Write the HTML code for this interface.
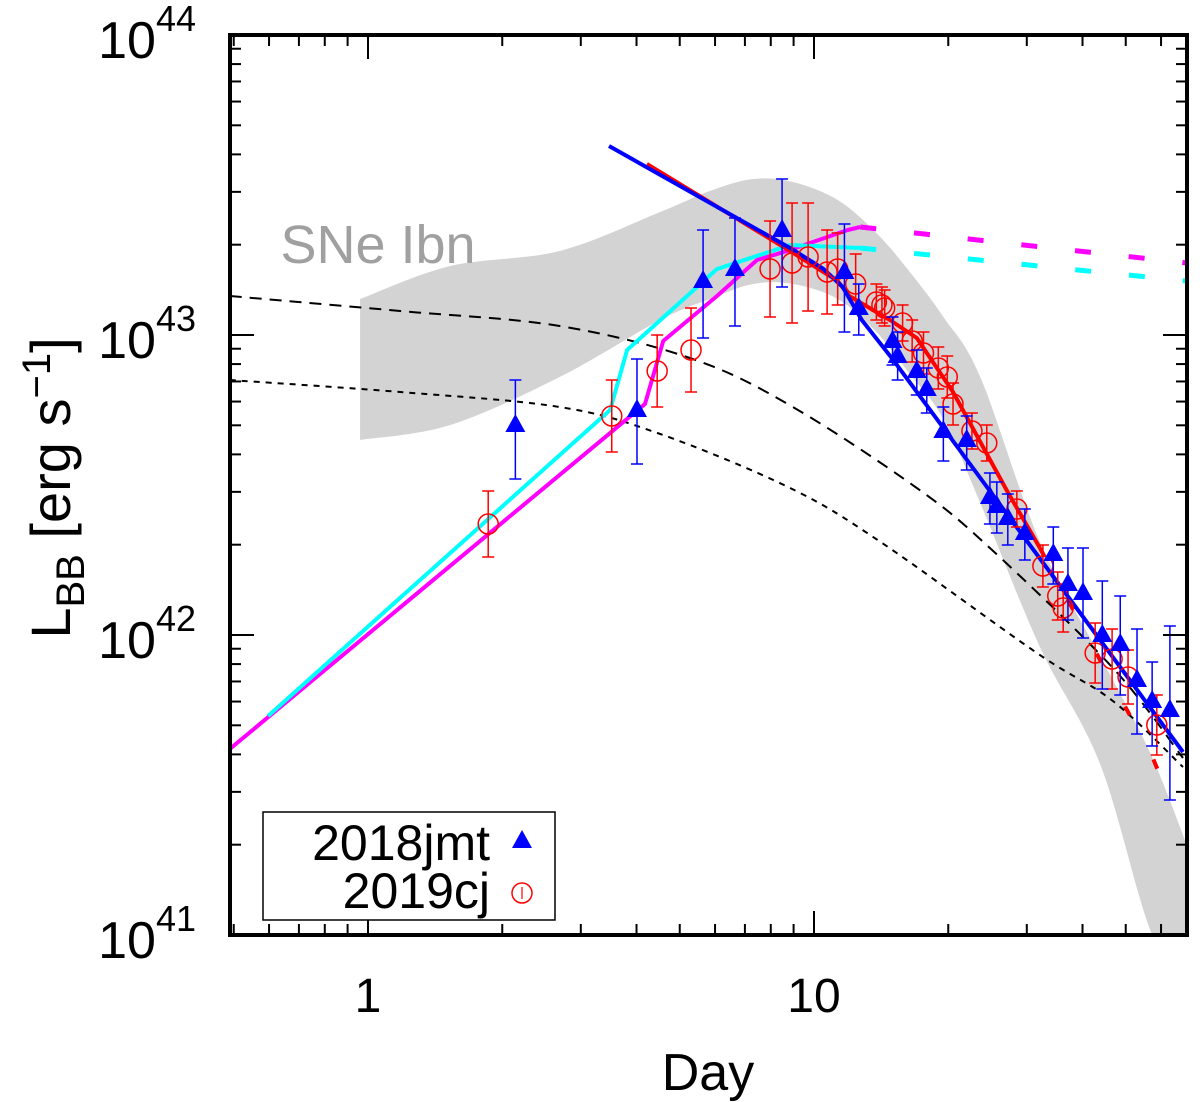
<!DOCTYPE html>
<html><head><meta charset="utf-8"><style>
html,body{margin:0;padding:0;background:#fff;}
svg{display:block;font-family:"Liberation Sans",sans-serif;}
</style></head><body>
<svg id="chart" width="1200" height="1102" viewBox="0 0 1200 1102" xmlns="http://www.w3.org/2000/svg">
<g id="band"></g>
<g id="models"></g>
<g id="pts"></g>
<g id="axes"></g>
<text x="378" y="263" font-size="54" fill="#a0a0a0" text-anchor="middle">SNe Ibn</text>
<text x="708" y="1090" font-size="52" text-anchor="middle">Day</text>
<text transform="translate(70,488) rotate(-90)" font-size="56" text-anchor="middle">L<tspan font-size="40" dy="14">BB</tspan><tspan dy="-14"> [erg s</tspan><tspan font-size="40" dy="-20">−1</tspan><tspan dy="20">]</tspan></text>
<g>
<rect x="263" y="812" width="292" height="108" fill="#fff" stroke="#000" stroke-width="1.5"/>
<text x="490" y="860" font-size="50" text-anchor="end">2018jmt</text>
<polygon points="522,830 532,848 512,848" fill="#0000ff"/>
<text x="490" y="908" font-size="50" text-anchor="end">2019cj</text>
<circle cx="522" cy="893" r="10" fill="none" stroke="#ff0000" stroke-width="1.5"/>
<line x1="522" y1="887" x2="522" y2="899" stroke="#ff0000" stroke-width="1.2"/>
</g>
</svg>
<script>
// --- data (day, log10 L) ---
const jmtDay=[2.14,4.01,5.64,6.65,8.48,11.7,12.6,15.0,15.4,17.0,17.9,19.5,22.0,24.8,25.7,27.2,29.7,34.4,37.1,40.1,44.3,48.6,53.0,57.3,62.8];
const jmtLogL=[42.70,42.75,43.18,43.22,43.35,43.21,43.09,42.98,42.93,42.88,42.82,42.68,42.65,42.46,42.43,42.39,42.34,42.27,42.17,42.14,42.00,41.97,41.85,41.78,41.75];
const jmtErrUp=[0.15,0.17,0.17,0.17,0.17,0.16,0.08,0.08,0.08,0.07,0.07,0.08,0.08,0.08,0.08,0.08,0.08,0.09,0.12,0.15,0.18,0.16,0.17,0.13,0.28];
const jmtErrDn=[0.18,0.18,0.19,0.19,0.19,0.2,0.09,0.08,0.08,0.08,0.08,0.1,0.1,0.09,0.09,0.09,0.09,0.1,0.12,0.15,0.18,0.17,0.18,0.15,0.3];
const cjDay=[1.86,3.52,4.45,5.30,7.97,8.93,9.70,10.7,11.3,12.4,13.8,14.2,14.4,15.8,16.6,17.6,19.0,19.9,20.5,22.6,24.4,28.5,32.6,35.2,36.2,42.7,46.6,50.6,58.7];
const cjLogL=[42.37,42.73,42.88,42.95,43.22,43.24,43.26,43.21,43.22,43.17,43.11,43.10,43.09,43.04,42.98,42.94,42.89,42.86,42.77,42.68,42.64,42.42,42.23,42.13,42.09,41.94,41.92,41.86,41.70];
const cjErr=[0.11,0.12,0.12,0.14,0.16,0.2,0.18,0.14,0.12,0.1,0.06,0.06,0.06,0.06,0.07,0.07,0.07,0.07,0.07,0.06,0.06,0.06,0.07,0.08,0.08,0.1,0.1,0.09,0.1];
const blueDay=[3.47,8.84,10.5,11.6,12.8,15.0,24.8,67.2];
const blueLogL=[43.63,43.29,43.22,43.16,43.05,42.92,42.48,41.61];
const redDay=[4.22,8.84,11.3,12.0,14.8,17.0,20.5,27.1,32.1];
const redLogL=[43.57,43.28,43.18,43.13,43.05,42.99,42.81,42.48,42.29];
const redDashDay=[32.1,57.5,63.8];
const redDashLogL=[42.29,41.59,41.43];
const magDay=[0.49,4.18,4.59,6.06,7.45,8.70,11.9,12.7];
const magLogL=[41.62,42.77,42.98,43.13,43.25,43.28,43.35,43.36];
const magDashDay=[12.7,68.6];
const magDashLogL=[43.36,43.24];
const cyanDay=[0.597,3.49,3.81,6.06,8.84,12.7];
const cyanLogL=[41.73,42.75,42.95,43.22,43.30,43.29];
const cyanDashDay=[12.7,68.6];
const cyanDashLogL=[43.29,43.18];
const dashDay=[0.49,1.18,2.69,5.35,8.97,17.0,24.8,46.8,67.2];
const dashLogL=[43.13,43.08,43.03,42.92,42.76,42.49,42.29,41.89,41.59];
const dotDay=[0.49,1.18,2.69,4.52,8.84,14.1,31.6,46.8,67.2];
const dotLogL=[42.85,42.81,42.76,42.67,42.49,42.31,41.94,41.78,41.56];
const bandDay=[0.96,1.53,2.69,4.52,5.84,7.30,8.97,11.3,13.8,16.4,19.5,23.6,32.1,43.8,56.6,68.6];
const bandUpper=[43.12,43.23,43.28,43.41,43.48,43.52,43.51,43.45,43.34,43.21,43.06,42.86,42.31,41.93,41.61,41.30];
const bandLower=[42.65,42.70,42.86,43.05,43.12,43.17,43.17,43.12,43.01,42.87,42.72,42.44,41.96,41.57,41.02,40.8];
const xTicks=["1","10"];
const yTicks=["41","42","43","44"];

const L=230,R=1187,T=35,B=935,X0=368,DEC=446;
const sx=d=>X0+Math.log10(d)*DEC;
const sy=l=>T+(44-l)*(B-T)/3;
const NS="http://www.w3.org/2000/svg";
function mk(parent,tag,attrs){const e=document.createElementNS(NS,tag);for(const k in attrs)e.setAttribute(k,attrs[k]);document.getElementById(parent).appendChild(e);return e;}
function pts(ds,ls){return ds.map((d,i)=>sx(d).toFixed(1)+","+sy(ls[i]).toFixed(1)).join(" ");}
function smooth(ds,ls,start){
 const p=ds.map((d,i)=>[sx(d),sy(ls[i])]);
 let s=(start?start:"M")+p[0][0].toFixed(1)+","+p[0][1].toFixed(1);
 for(let i=0;i<p.length-1;i++){
  const p0=p[Math.max(i-1,0)],p1=p[i],p2=p[i+1],p3=p[Math.min(i+2,p.length-1)];
  const c1=[p1[0]+(p2[0]-p0[0])/6,p1[1]+(p2[1]-p0[1])/6],c2=[p2[0]-(p3[0]-p1[0])/6,p2[1]-(p3[1]-p1[1])/6];
  s+=` C${c1[0].toFixed(1)},${c1[1].toFixed(1)} ${c2[0].toFixed(1)},${c2[1].toFixed(1)} ${p2[0].toFixed(1)},${p2[1].toFixed(1)}`;
 }
 return s;
}

const defs=document.createElementNS(NS,"defs");
defs.innerHTML='<clipPath id="cp"><rect x="230" y="35" width="957" height="900"/></clipPath>';
document.getElementById("chart").insertBefore(defs,document.getElementById("chart").firstChild);
["band","models","pts"].forEach(id=>document.getElementById(id).setAttribute("clip-path","url(#cp)"));

// band
const bd=smooth(bandDay,bandUpper)+" "+smooth(bandDay.slice().reverse(),bandLower.slice().reverse(),"L")+" Z";
let e=mk("band","path",{d:bd,fill:"#d3d3d3"});



function line(ds,ls,col,w,dash,name,sm){
 const el=sm?mk("models","path",{d:smooth(ds,ls),fill:"none",stroke:col,"stroke-width":w}):mk("models","polyline",{points:pts(ds,ls),fill:"none",stroke:col,"stroke-width":w,"stroke-linejoin":"round"});
 if(dash)el.setAttribute("stroke-dasharray",dash);
 
 
}
line(dashDay,dashLogL,"#000",2,"12,8","model-dashed",true);
line(dotDay,dotLogL,"#000",2,"6,6","model-dotted",true);
line(magDay,magLogL,"#ff00ff",4,null,"magenta-model");
line(magDashDay,magDashLogL,"#ff00ff",5,"16,38","magenta-model-extrap");
line(cyanDay,cyanLogL,"#00ffff",4,null,"cyan-model");
line(cyanDashDay,cyanDashLogL,"#00ffff",5,"16,38","cyan-model-extrap");

cjDay.forEach((d,i)=>{
 const x=sx(d),y=sy(cjLogL[i]),y1=sy(cjLogL[i]+cjErr[i]),y2=sy(cjLogL[i]-cjErr[i]);
 const g=mk("pts","g",{stroke:"#ff0000","stroke-width":1.5,fill:"none"});
 
 
 g.innerHTML=`<line x1="${x}" y1="${y1}" x2="${x}" y2="${y2}"/><line x1="${x-6}" y1="${y1}" x2="${x+6}" y2="${y1}"/><line x1="${x-6}" y1="${y2}" x2="${x+6}" y2="${y2}"/><circle cx="${x}" cy="${y}" r="10"/>`;
});
line(redDay,redLogL,"#ff0000",4,null,"red-fit");
line(redDashDay,redDashLogL,"#ff0000",4,"10,50","red-fit-extrap");
jmtDay.forEach((d,i)=>{
 const x=sx(d),y=sy(jmtLogL[i]),y1=sy(jmtLogL[i]+jmtErrUp[i]),y2=sy(jmtLogL[i]-jmtErrDn[i]);
 const g=mk("pts","g",{});
 
 
 g.innerHTML=`<g stroke="#0000ff" stroke-width="1.5"><line x1="${x}" y1="${y1}" x2="${x}" y2="${y2}"/><line x1="${x-6}" y1="${y1}" x2="${x+6}" y2="${y1}"/><line x1="${x-6}" y1="${y2}" x2="${x+6}" y2="${y2}"/></g><polygon points="${x},${y-11} ${x+10},${y+7} ${x-10},${y+7}" fill="#0000ff"/>`;
});
line(blueDay,blueLogL,"#0000ff",4,null,"blue-fit");

// axes
let a="";
for(let dec=-1;dec<=1;dec++)for(let m=1;m<=9;m++){
 const v=m*Math.pow(10,dec);const x=sx(v);if(x<L||x>R)continue;
 const len=m===1?24:11;
 a+=`<line x1="${x}" y1="${B}" x2="${x}" y2="${B-len}"/><line x1="${x}" y1="${T}" x2="${x}" y2="${T+len}"/>`;
}
for(let p=41;p<44;p++)for(let m=1;m<=9;m++){
 const y=sy(p+Math.log10(m));const len=m===1?24:11;
 a+=`<line x1="${L}" y1="${y}" x2="${L+len}" y2="${y}"/><line x1="${R}" y1="${y}" x2="${R-len}" y2="${y}"/>`;
}
const ax=mk("axes","g",{stroke:"#000","stroke-width":2});
ax.innerHTML=a;
const fr=mk("axes","rect",{x:L,y:T,width:R-L,height:B-T,fill:"none",stroke:"#000","stroke-width":4});


xTicks.forEach(t=>{
 const el=mk("axes","text",{x:sx(+t),y:1012,"font-size":48,"text-anchor":"middle"});
 el.textContent=t;
 
 
});
yTicks.forEach(t=>{
 const y=sy(+t);
 const el=mk("axes","text",{x:196,y:y+23,"font-size":52,"text-anchor":"end"});
 el.innerHTML=`10<tspan font-size="36" dy="-27">${t}</tspan>`;
 
 
});
</script>
</body></html>
